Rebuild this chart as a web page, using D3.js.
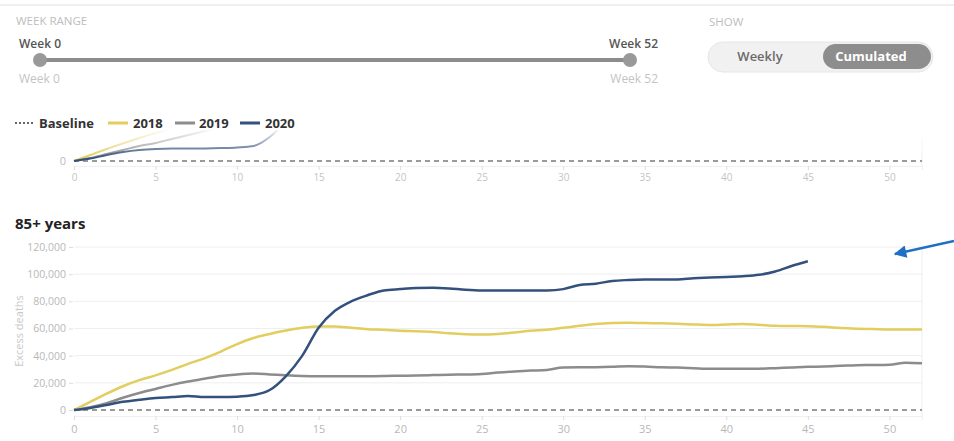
<!DOCTYPE html>
<html>
<head>
<meta charset="utf-8" />
<title>excess deaths</title>
<script src="https://cdn.jsdelivr.net/npm/d3@7"></script>
<style>
  body { margin: 0; background: #fff; }
  svg { display: block; font-family: "Open Sans", Lato, sans-serif; }
</style>
</head>
<body>
<svg width="954" height="441"></svg>
<script>
// week index = position in the array (0..52)
var xTicks = [0, 5, 10, 15, 20, 25, 30, 35, 40, 45, 50]
var yTicks = [0, 20000, 40000, 60000, 80000, 100000, 120000]

// 85+ years, cumulated excess deaths
var deaths2018 = [0, 6000, 12000, 17500, 22000, 25500, 29500, 34000, 38000, 43000, 48500,
  53000, 56000, 58500, 60500, 61500, 61500, 60500, 59500, 59000, 58300,
  58000, 57500, 56500, 55800, 55500, 56000, 57000, 58300, 59000, 60500,
  62000, 63300, 64000, 64300, 64000, 63800, 63500, 63000, 62600, 63000,
  63400, 62800, 62000, 61800, 61700, 61200, 60400, 59900, 59600, 59300, 59300, 59300]
var deaths2019 = [0, 2000, 5000, 9000, 12500, 15500, 18500, 21000, 23000, 25000, 26200,
  26800, 26200, 25500, 25000, 24800, 24800, 24800, 24900, 25000, 25200,
  25400, 25700, 26000, 26100, 26500, 27600, 28400, 29000, 29500, 31300,
  31400, 31500, 31800, 32200, 32000, 31500, 31200, 30800, 30400, 30400,
  30400, 30400, 30800, 31300, 31800, 32000, 32500, 33000, 33100, 33300, 34800, 34400]
var deaths2020 = [0, 1500, 3700, 6000, 7500, 8800, 9500, 10300, 9500, 9500, 9800,
  11000, 14700, 25000, 40000, 60500, 73000, 80000, 84500, 88000, 89000,
  89800, 90000, 89500, 88500, 88000, 88000, 88000, 88000, 88000, 89000,
  92000, 93000, 95000, 95700, 96000, 96000, 96000, 97000, 97500, 98000,
  98500, 99500, 102000, 106000, 109500]

// previous panel, only its lower part is visible under the header
var top2018 = [0, 3000, 6000, 8800, 11500, 14000, 16500, 19000]
var top2019 = [0, 1500, 3500, 5500, 7500, 9000, 11000, 13000, 15000, 17000]
var top2020 = [0, 1200, 3000, 4500, 5500, 6000, 6200, 6200, 6300, 6500, 6800, 7500, 12000, 20000]

var colors = {"2018": "#e2cd5e", "2019": "#8c8c8c", "2020": "#34507d"}

var svg = d3.select("svg")

var x = d3.scaleLinear().domain([0, 52]).range([74, 922])
var y = d3.scaleLinear().domain([0, 120000]).range([410, 247])
var yTop = d3.scaleLinear().domain([0, 20000]).range([161, 121])

function lineFor(ys) {
  return d3.line().x((d, i) => x(i)).y(d => ys(d)).curve(d3.curveMonotoneX)
}

// ---------- header ----------
svg.append("line").attr("x1", 0).attr("x2", 954).attr("y1", 5).attr("y2", 5)
  .attr("stroke", "#ebebeb").attr("stroke-width", 1.5)

svg.append("text").attr("x", 16).attr("y", 25).text("WEEK RANGE")
  .attr("font-size", 11.5).attr("fill", "#bdbdbd")
svg.append("text").attr("x", 709).attr("y", 26).text("SHOW")
  .attr("font-size", 11.5).attr("fill", "#bdbdbd")

svg.append("line").attr("x1", 40).attr("x2", 630).attr("y1", 60).attr("y2", 60)
  .attr("stroke", "#8c8c8c").attr("stroke-width", 4)
svg.selectAll(".handle").data([40, 630]).enter().append("circle")
  .attr("cx", d => d).attr("cy", 60).attr("r", 7).attr("fill", "#999")

svg.append("text").attr("x", 19).attr("y", 48).text("Week 0")
  .attr("font-size", 12).attr("font-weight", "600").attr("fill", "#555")
svg.append("text").attr("x", 19).attr("y", 83).text("Week 0")
  .attr("font-size", 12).attr("fill", "#c4c4c4")
svg.append("text").attr("x", 658).attr("y", 48).text("Week 52").attr("text-anchor", "end")
  .attr("font-size", 12).attr("font-weight", "600").attr("fill", "#555")
svg.append("text").attr("x", 658).attr("y", 83).text("Week 52").attr("text-anchor", "end")
  .attr("font-size", 12).attr("fill", "#c4c4c4")

svg.append("rect").attr("x", 708).attr("y", 42).attr("width", 225).attr("height", 30)
  .attr("rx", 15).attr("fill", "#f1f1f1").attr("stroke", "#e6e6e6")
svg.append("rect").attr("x", 823).attr("y", 44).attr("width", 108).attr("height", 25)
  .attr("rx", 12.5).attr("fill", "#8d8d8d")
svg.append("text").attr("x", 760).attr("y", 61).text("Weekly").attr("text-anchor", "middle")
  .attr("font-size", 13).attr("font-weight", "600").attr("fill", "#6a6a6a")
svg.append("text").attr("x", 871).attr("y", 61).text("Cumulated").attr("text-anchor", "middle")
  .attr("font-size", 13).attr("font-weight", "bold").attr("fill", "#fff")

// ---------- top (clipped) panel ----------
svg.append("clipPath").attr("id", "topclip").append("rect")
  .attr("x", 70).attr("y", 130).attr("width", 860).attr("height", 40)

var gTop = svg.append("g")
gTop.append("line").attr("x1", 922).attr("x2", 922).attr("y1", 138).attr("y2", 167)
  .attr("stroke", "#eee")
gTop.append("text").attr("x", 66).attr("y", 165).text("0").attr("text-anchor", "end")
  .attr("font-size", 11).attr("fill", "#bbb")
gTop.append("line").attr("x1", 74).attr("x2", 922).attr("y1", yTop(0)).attr("y2", yTop(0))
  .attr("stroke", "#9a9a9a").attr("stroke-width", 2).attr("stroke-dasharray", "5,4")

var topAxis = gTop.append("g").attr("transform", "translate(0,166)")
  .call(d3.axisBottom(x).tickValues(xTicks).tickSize(4).tickPadding(4))
topAxis.select(".domain").attr("stroke", "#f0f0f0")
topAxis.selectAll(".tick line").attr("stroke", "#ddd")
topAxis.selectAll("text").attr("fill", "#c4c4c4").attr("font-size", 10)
  .attr("font-family", "'Open Sans', sans-serif")

var topLines = gTop.append("g").attr("clip-path", "url(#topclip)")
;[["2018", top2018], ["2019", top2019], ["2020", top2020]].forEach(function (s) {
  topLines.append("path").attr("d", lineFor(yTop)(s[1]))
    .attr("fill", "none").attr("stroke", colors[s[0]]).attr("stroke-width", 2)
})

var grad = svg.append("defs").append("linearGradient").attr("id", "fade")
  .attr("x1", 0).attr("x2", 0).attr("y1", 0).attr("y2", 1)
grad.append("stop").attr("offset", "0%").attr("stop-color", "#fff").attr("stop-opacity", 1)
grad.append("stop").attr("offset", "100%").attr("stop-color", "#fff").attr("stop-opacity", 0)
svg.append("rect").attr("x", 70).attr("y", 128).attr("width", 860).attr("height", 30)
  .attr("fill", "url(#fade)")

// ---------- legend ----------
var legend = svg.append("g").attr("font-size", 13).attr("font-weight", "bold").attr("fill", "#333")
legend.append("line").attr("x1", 15).attr("x2", 34).attr("y1", 123).attr("y2", 123)
  .attr("stroke", "#666").attr("stroke-width", 2).attr("stroke-dasharray", "2,2")
legend.append("text").attr("x", 39).attr("y", 128).text("Baseline")
var legendItems = [["2018", 108, 128, 133], ["2019", 175, 195, 199], ["2020", 240, 260, 265]]
legendItems.forEach(function (d) {
  legend.append("line").attr("x1", d[1]).attr("x2", d[2]).attr("y1", 123).attr("y2", 123)
    .attr("stroke", colors[d[0]]).attr("stroke-width", 3)
  legend.append("text").attr("x", d[3]).attr("y", 128).text(d[0])
})

// ---------- 85+ panel ----------
svg.append("text").attr("x", 15).attr("y", 229).text("85+ years")
  .attr("font-size", 15).attr("font-weight", "bold").attr("fill", "#222")

var g = svg.append("g")

g.selectAll(".grid").data(yTicks.slice(1)).enter().append("line")
  .attr("x1", 74).attr("x2", 922).attr("y1", d => y(d)).attr("y2", d => y(d))
  .attr("stroke", "#eeeeee")
g.append("line").attr("x1", 922).attr("x2", 922).attr("y1", y(120000)).attr("y2", 416)
  .attr("stroke", "#eee")

var yAxis = g.append("g").attr("transform", "translate(73,0)")
  .call(d3.axisLeft(y).tickValues(yTicks).tickFormat(d3.format(",")).tickSize(4).tickPadding(3))
yAxis.select(".domain").remove()
yAxis.selectAll(".tick line").attr("stroke", "#ddd")
yAxis.selectAll("text").attr("fill", "#b8b8b8").attr("font-size", 10.5)
  .attr("font-family", "'Open Sans', sans-serif")

g.append("text").attr("transform", "translate(23,331) rotate(-90)")
  .attr("text-anchor", "middle").text("Excess deaths")
  .attr("font-size", 11).attr("fill", "#c8c8c8")

var xAxis = g.append("g").attr("transform", "translate(0,416)")
  .call(d3.axisBottom(x).tickValues(xTicks).tickSize(4).tickPadding(5))
xAxis.select(".domain").attr("stroke", "#f0f0f0")
xAxis.selectAll(".tick line").attr("stroke", "#ddd")
xAxis.selectAll("text").attr("fill", "#b8b8b8").attr("font-size", 11)
  .attr("font-family", "'Open Sans', sans-serif")

g.append("line").attr("x1", 74).attr("x2", 922).attr("y1", y(0)).attr("y2", y(0))
  .attr("stroke", "#9a9a9a").attr("stroke-width", 2).attr("stroke-dasharray", "5,4")

;[["2019", deaths2019], ["2018", deaths2018], ["2020", deaths2020]].forEach(function (s) {
  g.append("path").attr("d", lineFor(y)(s[1]))
    .attr("fill", "none").attr("stroke", colors[s[0]]).attr("stroke-width", 2.5)
    .attr("stroke-linejoin", "round")
})

// ---------- annotation arrow ----------
svg.append("defs").append("marker").attr("id", "head")
  .attr("viewBox", "0 0 10 10").attr("refX", 9).attr("refY", 5)
  .attr("markerWidth", 6).attr("markerHeight", 5).attr("orient", "auto")
  .append("path").attr("d", "M0,0L10,5L0,10Z").attr("fill", "#1f6fc4")
svg.append("line").attr("x1", 954).attr("y1", 241).attr("x2", 895).attr("y2", 254)
  .attr("stroke", "#1f6fc4").attr("stroke-width", 2.5).attr("marker-end", "url(#head)")
</script>
</body>
</html>
